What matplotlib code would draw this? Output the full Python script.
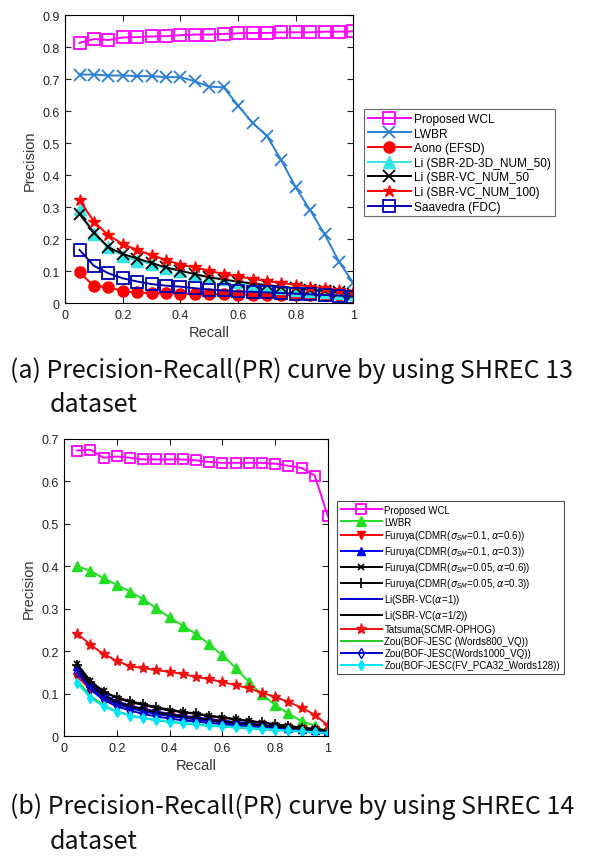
import matplotlib
matplotlib.use("Agg")
import matplotlib.pyplot as plt

plt.rcParams['font.family'] = ['Liberation Sans', 'DejaVu Sans']

recall = [0.05, 0.10, 0.15, 0.20, 0.25, 0.30, 0.35, 0.40, 0.45, 0.50,
          0.55, 0.60, 0.65, 0.70, 0.75, 0.80, 0.85, 0.90, 0.95, 1.00]

# ---- (a) SHREC 13 ----
a_wcl = [0.814, 0.826, 0.823, 0.831, 0.832, 0.834, 0.835, 0.838, 0.840, 0.840,
         0.842, 0.844, 0.845, 0.845, 0.847, 0.847, 0.847, 0.849, 0.849, 0.850]
a_lwbr = [0.715, 0.715, 0.712, 0.712, 0.710, 0.710, 0.707, 0.707, 0.694, 0.677,
          0.675, 0.618, 0.564, 0.523, 0.447, 0.362, 0.291, 0.216, 0.130, 0.063]
a_aono = [0.097, 0.053, 0.052, 0.037, 0.034, 0.032, 0.031, 0.030, 0.029, 0.028,
          0.028, 0.027, 0.027, 0.026, 0.026, 0.025, 0.025, 0.025, 0.025, 0.025]
a_li2d3d = [0.294, 0.218, 0.175, 0.149, 0.133, 0.123, 0.109, 0.102, 0.091, 0.083,
            0.076, 0.065, 0.057, 0.053, 0.048, 0.043, 0.038, 0.035, 0.032, 0.029]
a_livc50 = [0.279, 0.221, 0.175, 0.154, 0.140, 0.126, 0.112, 0.102, 0.091, 0.081,
            0.074, 0.068, 0.062, 0.057, 0.052, 0.047, 0.043, 0.038, 0.034, 0.029]
a_livc100 = [0.322, 0.255, 0.213, 0.185, 0.167, 0.151, 0.135, 0.121, 0.112, 0.102,
             0.091, 0.084, 0.076, 0.069, 0.063, 0.058, 0.052, 0.047, 0.042, 0.036]
a_saav = [0.167, 0.117, 0.094, 0.078, 0.068, 0.060, 0.055, 0.052, 0.047, 0.043,
          0.040, 0.037, 0.036, 0.034, 0.032, 0.030, 0.028, 0.026, 0.024, 0.021]

# ---- (b) SHREC 14 ----
b_wcl = [0.672, 0.674, 0.655, 0.658, 0.655, 0.651, 0.651, 0.651, 0.651, 0.649,
         0.645, 0.643, 0.643, 0.643, 0.643, 0.641, 0.636, 0.631, 0.613, 0.517]
b_lwbr = [0.400, 0.389, 0.371, 0.356, 0.340, 0.322, 0.301, 0.279, 0.260, 0.240,
          0.216, 0.190, 0.161, 0.127, 0.098, 0.073, 0.053, 0.035, 0.024, 0.009]
b_fur_01_06 = [0.140, 0.110, 0.088, 0.075, 0.066, 0.059, 0.053, 0.048, 0.044, 0.040,
               0.037, 0.034, 0.031, 0.028, 0.025, 0.022, 0.019, 0.016, 0.013, 0.010]
b_fur_01_03 = [0.165, 0.125, 0.098, 0.082, 0.072, 0.064, 0.058, 0.052, 0.048, 0.044,
               0.040, 0.036, 0.033, 0.030, 0.026, 0.023, 0.020, 0.017, 0.014, 0.011]
b_fur_005_06 = [0.170, 0.130, 0.105, 0.090, 0.080, 0.073, 0.066, 0.060, 0.056, 0.052,
                0.047, 0.043, 0.039, 0.035, 0.031, 0.027, 0.023, 0.019, 0.016, 0.012]
b_fur_005_03 = [0.168, 0.128, 0.103, 0.091, 0.082, 0.075, 0.068, 0.062, 0.057, 0.053,
                0.048, 0.044, 0.040, 0.036, 0.032, 0.028, 0.024, 0.020, 0.017, 0.013]
b_li_a1 = [0.155, 0.115, 0.090, 0.076, 0.066, 0.058, 0.052, 0.047, 0.043, 0.039,
           0.035, 0.032, 0.029, 0.026, 0.023, 0.020, 0.017, 0.014, 0.012, 0.009]
b_li_a05 = [0.160, 0.120, 0.095, 0.080, 0.070, 0.062, 0.056, 0.050, 0.046, 0.042,
            0.038, 0.035, 0.031, 0.028, 0.025, 0.022, 0.019, 0.016, 0.013, 0.010]
b_tatsuma = [0.241, 0.215, 0.193, 0.177, 0.164, 0.160, 0.155, 0.151, 0.146, 0.139,
             0.134, 0.127, 0.120, 0.112, 0.102, 0.092, 0.080, 0.067, 0.050, 0.025]
b_zou800 = [0.130, 0.095, 0.072, 0.058, 0.049, 0.042, 0.037, 0.033, 0.030, 0.027,
            0.024, 0.022, 0.020, 0.018, 0.016, 0.014, 0.012, 0.010, 0.008, 0.006]
b_zou1000 = [0.150, 0.110, 0.085, 0.070, 0.060, 0.052, 0.046, 0.041, 0.037, 0.034,
             0.031, 0.028, 0.025, 0.022, 0.020, 0.017, 0.015, 0.012, 0.010, 0.008]
b_zoufv = [0.125, 0.090, 0.070, 0.057, 0.048, 0.042, 0.038, 0.034, 0.031, 0.028,
           0.025, 0.023, 0.021, 0.019, 0.017, 0.015, 0.013, 0.011, 0.009, 0.007]

fig = plt.figure(figsize=(5.92, 8.62), dpi=100)

def style_axes(ax, ymax):
    ax.set_xlim(0, 1)
    ax.set_ylim(0, ymax)
    ax.set_xticks([0, 0.2, 0.4, 0.6, 0.8, 1])
    ax.set_xticklabels(['0', '0.2', '0.4', '0.6', '0.8', '1'])
    yt = [i / 10 for i in range(int(round(ymax * 10)) + 1)]
    ax.set_yticks(yt)
    ax.set_yticklabels(['0'] + ['%.1f' % v for v in yt[1:]])
    ax.tick_params(direction='in', top=True, right=True, length=4,
                   labelsize=9, colors='#222222', pad=4)
    for s in ax.spines.values():
        s.set_linewidth(0.8)
    ax.set_xlabel('Recall', fontsize=10.5, color='#333333', labelpad=3)
    ax.set_ylabel('Precision', fontsize=10.5, color='#333333', labelpad=4)

# (a)
ax1 = fig.add_axes([0.110, 0.647, 0.487, 0.334])
ax1.plot(recall, a_wcl, '-s', color='#ff00ff', mfc='none', ms=8, mew=1.3, lw=1.4, label='Proposed WCL')
ax1.plot(recall, a_lwbr, '-x', color='#2a7fd4', ms=8, mew=1.3, lw=1.4, label='LWBR')
ax1.plot(recall, a_aono, '-o', color='#ff0000', ms=8, lw=1.4, label='Aono (EFSD)')
ax1.plot(recall, a_li2d3d, '-^', color='#33e6e6', ms=8, lw=1.4, label='Li (SBR-2D-3D_NUM_50)')
ax1.plot(recall, a_livc50, '-x', color='#000000', ms=8, mew=1.3, lw=1.4, label='Li (SBR-VC_NUM_50')
ax1.plot(recall, a_livc100, '-*', color='#ff0000', ms=9, lw=1.4, label='Li (SBR-VC_NUM_100)')
ax1.plot(recall, a_saav, '-s', color='#0000b0', mfc='none', ms=8, mew=1.3, lw=1.4, label='Saavedra (FDC)')
style_axes(ax1, 0.9)
leg1 = ax1.legend(loc='upper left', bbox_to_anchor=(0.615, 0.872), bbox_transform=fig.transFigure,
                  fontsize=8.6, handlelength=3.6, labelspacing=0.22, borderpad=0.3,
                  handletextpad=0.3, fancybox=False, edgecolor='#444444', borderaxespad=0)
leg1.get_frame().set_linewidth(0.8)

# (b)
ax2 = fig.add_axes([0.108, 0.145, 0.446, 0.345])
ax2.plot(recall, b_wcl, '-s', color='#ff00ff', mfc='none', ms=7, mew=1.3, lw=1.4, label='Proposed WCL')
ax2.plot(recall, b_lwbr, '-^', color='#22dd22', ms=7, lw=1.4, label='LWBR')
ax2.plot(recall, b_fur_01_06, '-v', color='#ff0000', ms=6, lw=1.4,
         label=r'Furuya(CDMR($\sigma_{SM}$=0.1, $\alpha$=0.6))')
ax2.plot(recall, b_fur_01_03, '-^', color='#0000ff', ms=6, lw=1.4,
         label=r'Furuya(CDMR($\sigma_{SM}$=0.1, $\alpha$=0.3))')
ax2.plot(recall, b_fur_005_06, '-x', color='#000000', ms=4, mew=1.2, lw=1.4,
         label=r'Furuya(CDMR($\sigma_{SM}$=0.05, $\alpha$=0.6))')
ax2.plot(recall, b_fur_005_03, '-+', color='#000000', ms=7, mew=1.2, lw=1.4,
         label=r'Furuya(CDMR($\sigma_{SM}$=0.05, $\alpha$=0.3))')
ax2.plot(recall, b_li_a1, '-', color='#0000cc', lw=1.4, label=r'Li(SBR-VC($\alpha$=1))')
ax2.plot(recall, b_li_a05, '-', color='#000000', lw=1.4, label=r'Li(SBR-VC($\alpha$=1/2))')
ax2.plot(recall, b_tatsuma, '-*', color='#ee1111', ms=8, lw=1.4, label='Tatsuma(SCMR-OPHOG)')
ax2.plot(recall, b_zou800, '-', color='#22cc22', lw=1.4, label='Zou(BOF-JESC (Words800_VQ))')
ax2.plot(recall, b_zou1000, '-d', color='#0000cc', mfc='none', ms=5, mew=1.0, lw=1.4,
         label='Zou(BOF-JESC(Words1000_VQ))')
ax2.plot(recall, b_zoufv, '-d', color='#00e5ff', ms=5, lw=1.4, label='Zou(BOF-JESC(FV_PCA32_Words128))')
style_axes(ax2, 0.7)
leg2 = ax2.legend(loc='upper left', bbox_to_anchor=(0.569, 0.418), bbox_transform=fig.transFigure,
                  fontsize=7, handlelength=4.2, labelspacing=0.2, borderpad=0.4,
                  handletextpad=0.3, fancybox=False, edgecolor='#222222', borderaxespad=0)
leg2.get_frame().set_linewidth(0.8)

# captions
cap_font = ['Noto Sans CJK KR', 'DejaVu Sans']
cap_size = 18
fig.text(0.017, 0.570, '(a) Precision-Recall(PR) curve by using SHREC 13', fontsize=cap_size,
         family=cap_font, va='center', color='#111111')
fig.text(0.083, 0.530, 'dataset', fontsize=cap_size, family=cap_font, va='center', color='#111111')
fig.text(0.017, 0.064, '(b) Precision-Recall(PR) curve by using SHREC 14', fontsize=cap_size,
         family=cap_font, va='center', color='#111111')
fig.text(0.083, 0.023, 'dataset', fontsize=cap_size, family=cap_font, va='center', color='#111111')

fig.savefig('out.png', dpi=100)
